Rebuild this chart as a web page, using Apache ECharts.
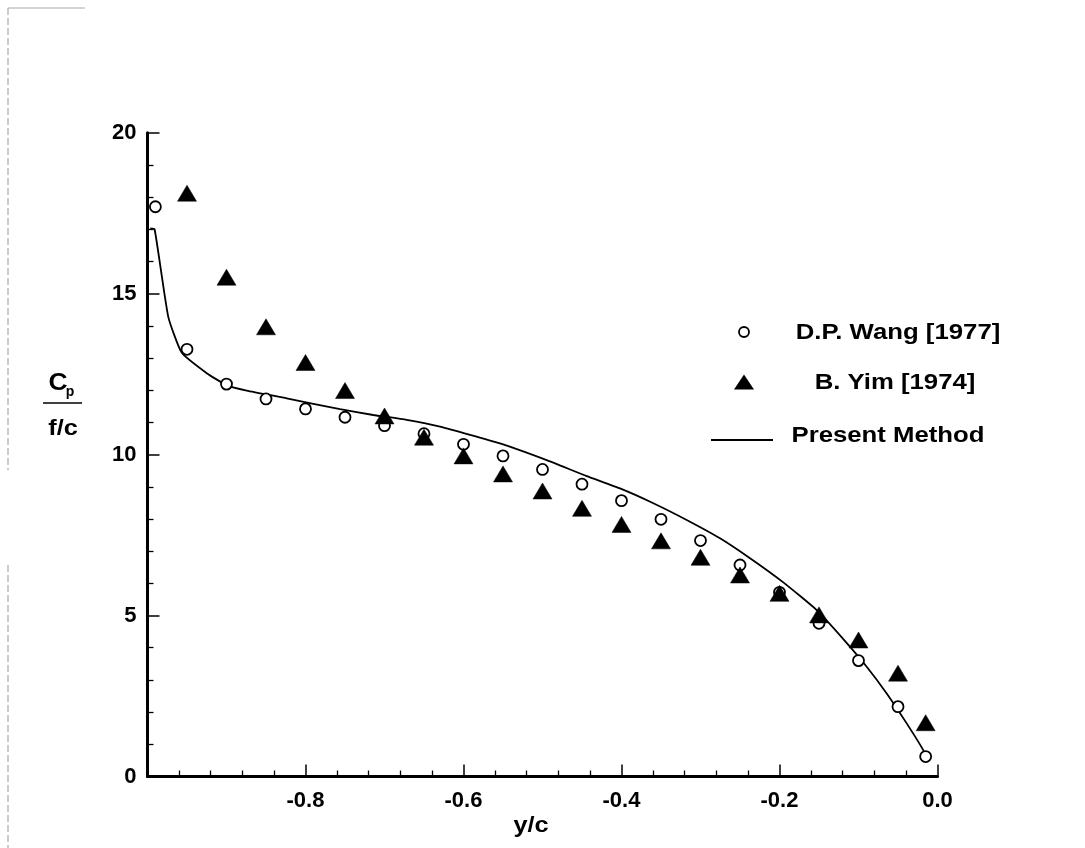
<!DOCTYPE html>
<html>
<head>
<meta charset="utf-8">
<script src="https://cdn.jsdelivr.net/npm/echarts@6/dist/echarts.min.js"></script>
<style>
html,body{margin:0;padding:0;background:#fff;}
#chart{width:1085px;height:848px;}
</style>
</head>
<body>
<div id="chart"></div>
<script>
// ---- data ----
var wangX = [-0.99, -0.95, -0.9, -0.85, -0.8, -0.75, -0.7, -0.65, -0.6, -0.55, -0.5, -0.45, -0.4, -0.35, -0.3, -0.25, -0.2, -0.15, -0.1, -0.05, -0.015];
var wangY = [17.70, 13.27, 12.19, 11.73, 11.42, 11.16, 10.90, 10.65, 10.32, 9.96, 9.54, 9.08, 8.57, 7.99, 7.33, 6.57, 5.72, 4.76, 3.60, 2.17, 0.62];
var yimX = [-0.95, -0.9, -0.85, -0.8, -0.75, -0.7, -0.65, -0.6, -0.55, -0.5, -0.45, -0.4, -0.35, -0.3, -0.25, -0.2, -0.15, -0.1, -0.05, -0.015];
var yimY = [18.12, 15.51, 13.97, 12.86, 11.99, 11.20, 10.54, 9.96, 9.40, 8.87, 8.33, 7.83, 7.32, 6.81, 6.26, 5.69, 5.02, 4.24, 3.21, 1.67];
var methodX = [-0.9965, -0.991, -0.9737, -0.9567, -0.925, -0.90, -0.8744, -0.8238, -0.7563, -0.7142, -0.6719, -0.6297, -0.5538, -0.4947, -0.444, -0.4019, -0.3597, -0.3175, -0.2753, -0.2373, -0.1952, -0.1529, -0.1192, -0.0896, -0.0643, -0.039, -0.018, -0.0137];
var methodY = [17.03, 17.0, 14.28, 13.17, 12.53, 12.16, 11.99, 11.75, 11.41, 11.23, 11.08, 10.87, 10.35, 9.83, 9.33, 8.95, 8.49, 7.97, 7.40, 6.78, 6.03, 5.17, 4.27, 3.41, 2.58, 1.65, 0.82, 0.57];
var seriesNames = ['D.P. Wang [1977]', 'B. Yim [1974]', 'Present Method'];
var xTitle = 'y/c';

function zip(a, b) { return a.map(function (v, i) { return [v, b[i]]; }); }

var FONT = '"Liberation Sans", Arial, sans-serif';
var chart = echarts.init(document.getElementById('chart'), null, {renderer: 'canvas'});

var option = {
  backgroundColor: '#fff',
  animation: false,
  grid: {left: 147.5, right: 147.5, top: 132.7, bottom: 71.5, containLabel: false},
  xAxis: {
    type: 'value', min: -1, max: 0, interval: 0.2,
    axisLine: {onZero: false, lineStyle: {color: '#000', width: 3}},
    axisTick: {inside: true, length: 12, lineStyle: {color: '#000', width: 1.5}},
    minorTick: {show: true, splitNumber: 5, length: 6, lineStyle: {color: '#000', width: 1.3}},
    splitLine: {show: false},
    axisLabel: {
      margin: 13, color: '#000', fontFamily: FONT, fontWeight: 'bold', fontSize: 22,
      formatter: function (v) { if (v <= -0.999) return ''; return (Math.abs(v) < 1e-9 ? 0 : v).toFixed(1); }
    }
  },
  yAxis: {
    type: 'value', min: 0, max: 20, interval: 5,
    axisLine: {onZero: false, lineStyle: {color: '#000', width: 3}},
    axisTick: {inside: true, length: 12, lineStyle: {color: '#000', width: 1.5}},
    minorTick: {show: true, splitNumber: 5, length: 6, lineStyle: {color: '#000', width: 1.3}},
    splitLine: {show: false},
    axisLabel: {margin: 11, color: '#000', fontFamily: FONT, fontWeight: 'bold', fontSize: 22}
  },
  series: [
    {
      name: seriesNames[2], type: 'line', data: zip(methodX, methodY),
      showSymbol: false, symbol: 'none', smooth: 0.15, z: 2,
      lineStyle: {color: '#000', width: 1.8}
    },
    {
      name: seriesNames[0], type: 'scatter', data: zip(wangX, wangY),
      symbol: 'circle', symbolSize: 11, z: 3,
      itemStyle: {color: '#fff', borderColor: '#000', borderWidth: 1.8, opacity: 1}
    },
    {
      name: seriesNames[1], type: 'scatter', data: zip(yimX, yimY),
      symbol: 'triangle', symbolSize: [19, 16], z: 4,
      itemStyle: {color: '#000', borderColor: '#000', borderWidth: 0.5, opacity: 1}
    }
  ],
  graphic: [
    // scan frame remnant at left edge
    {type: 'line', shape: {x1: 8, y1: 8, x2: 8, y2: 470}, style: {stroke: '#999', lineWidth: 1, lineDash: [7, 3]}, silent: true},
    {type: 'line', shape: {x1: 8, y1: 565, x2: 8, y2: 848}, style: {stroke: '#999', lineWidth: 1, lineDash: [7, 3]}, silent: true},
    {type: 'line', shape: {x1: 8, y1: 8, x2: 85, y2: 8}, style: {stroke: '#aaa', lineWidth: 1}, silent: true},
    // y-axis title: Cp / (f/c)
    {type: 'text', x: 58, y: 384, scaleX: 1.15, style: {text: 'C', font: 'bold 23px ' + FONT, fill: '#000', textAlign: 'center', textVerticalAlign: 'middle'}},
    {type: 'text', x: 70, y: 392, style: {text: 'p', font: 'bold 14px ' + FONT, fill: '#000', textAlign: 'center', textVerticalAlign: 'middle'}},
    {type: 'line', shape: {x1: 43, y1: 403, x2: 82, y2: 403}, style: {stroke: '#000', lineWidth: 1.5}},
    {type: 'text', x: 63, y: 429, scaleX: 1.15, style: {text: 'f/c', font: 'bold 22px ' + FONT, fill: '#000', textAlign: 'center', textVerticalAlign: 'middle'}},
    // x-axis title
    {type: 'text', x: 531, y: 826, scaleX: 1.15, style: {text: xTitle, font: 'bold 22px ' + FONT, fill: '#000', textAlign: 'center', textVerticalAlign: 'middle'}},
    // legend
    {type: 'circle', shape: {cx: 744, cy: 332, r: 5}, style: {fill: '#fff', stroke: '#000', lineWidth: 1.8}},
    {type: 'text', x: 898, y: 333, scaleX: 1.17, style: {text: seriesNames[0], font: 'bold 22px ' + FONT, fill: '#000', textAlign: 'center', textVerticalAlign: 'middle'}},
    {type: 'polygon', shape: {points: [[744, 374.5], [754, 389.5], [734, 389.5]]}, style: {fill: '#000'}},
    {type: 'text', x: 895, y: 383, scaleX: 1.17, style: {text: seriesNames[1], font: 'bold 22px ' + FONT, fill: '#000', textAlign: 'center', textVerticalAlign: 'middle'}},
    {type: 'line', shape: {x1: 711, y1: 440, x2: 773, y2: 440}, style: {stroke: '#000', lineWidth: 1.8}},
    {type: 'text', x: 888, y: 436, scaleX: 1.17, style: {text: seriesNames[2], font: 'bold 22px ' + FONT, fill: '#000', textAlign: 'center', textVerticalAlign: 'middle'}}
  ]
};
chart.setOption(option);
</script>
</body>
</html>
